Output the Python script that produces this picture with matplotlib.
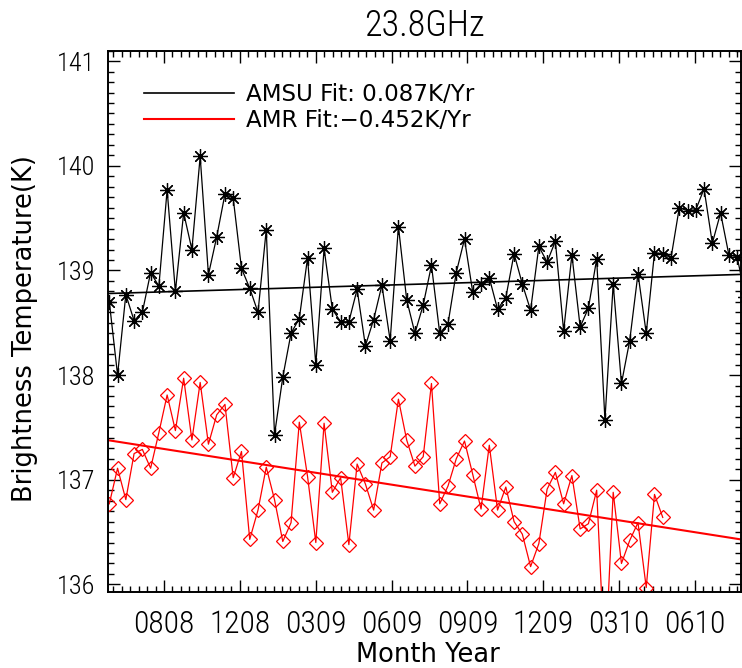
import numpy as np
import matplotlib
matplotlib.use('Agg')
import matplotlib.pyplot as plt
from matplotlib import font_manager as fm
from matplotlib.ticker import FixedLocator, MultipleLocator
from matplotlib.lines import Line2D

# ---------------- data ----------------
title = '23.8GHz'
xlabel = 'Month Year'
ylabel = 'Brightness Temperature(K)'
tick_labels = ['0808', '1208', '0309', '0609', '0909', '1209', '0310', '0610']
sample_step_days = 10          # one sample every 10 days
first_tick_day = 66.2          # day of the first labelled tick
tick_step_days = 91.84         # ~3 months between labelled ticks

amsu = [138.70, 138.00, 138.77, 138.52, 138.60, 138.98, 138.85, 139.77, 138.80, 139.55,
        139.20, 140.09, 138.96, 139.32, 139.73, 139.69, 139.02, 138.83, 138.60, 139.39,
        137.43, 137.98, 138.40, 138.54, 139.12, 138.10, 139.21, 138.63, 138.51, 138.51,
        138.82, 138.28, 138.53, 138.86, 138.33, 139.42, 138.72, 138.40, 138.67, 139.05,
        138.40, 138.49, 138.98, 139.30, 138.79, 138.87, 138.93, 138.63, 138.74, 139.16,
        138.87, 138.62, 139.23, 139.08, 139.28, 138.42, 139.15, 138.46, 138.64, 139.11,
        137.57, 138.87, 137.92, 138.33, 138.97, 138.40, 139.17, 139.16, 139.12, 139.60,
        139.57, 139.58, 139.78, 139.26, 139.55, 139.15, 139.13, 138.75]

amr = [136.77, 137.11, 136.81, 137.25, 137.29, 137.11, 137.45, 137.81, 137.47, 137.97,
       137.38, 137.93, 137.34, 137.62, 137.72, 137.02, 137.27, 136.43, 136.71, 137.12,
       136.81, 136.41, 136.59, 137.55, 137.03, 136.40, 137.54, 136.88, 137.02, 136.38,
       137.15, 136.96, 136.71, 137.16, 137.22, 137.77, 137.38, 137.13, 137.22, 137.92,
       136.77, 136.94, 137.20, 137.37, 137.05, 136.72, 137.33, 136.71, 136.93, 136.60,
       136.48, 136.17, 136.39, 136.91, 137.07, 136.77, 137.04, 136.53, 136.58, 136.90,
       135.20, 136.88, 136.20, 136.42, 136.59, 135.97, 136.86, 136.64]

# linear fits: (value at first sample [K], slope [K/yr])
amsu_fit = (138.78, 0.087)
amr_fit = (137.376, -0.452)
amsu_label = 'AMSU Fit: 0.087K/Yr'
amr_label = 'AMR Fit:\u22120.452K/Yr'

# ---------------- fonts ----------------
def pick(names):
    for n in names:
        try:
            fm.findfont(fm.FontProperties(family=n), fallback_to_default=False)
            return n
        except Exception:
            pass
    return 'DejaVu Sans'

narrow = pick(['Liberation Sans Narrow', 'Roboto Condensed', 'Liberation Sans'])
wide = 'DejaVu Sans'

# ---------------- figure ----------------
fig = plt.figure(figsize=(7.42, 6.68), dpi=100)
ax = fig.add_axes([0.1462, 0.1142, 0.8521, 0.8099])

x_amsu = np.arange(len(amsu)) * sample_step_days
x_amr = np.arange(len(amr)) * sample_step_days

xlim = (-1.0, 764.4)
ylim = (135.93, 141.10)

ax.plot(x_amsu, amsu, color='black', lw=0.9, marker=(8, 2, 0), ms=10.5,
        mec='black', mew=0.9)
ax.plot(x_amr, amr, color='#ff0000', lw=0.9, marker='D', ms=7.2,
        mfc='none', mec='#ff0000', mew=0.9)

xf = np.array(xlim)
ax.plot(xf, amsu_fit[0] + amsu_fit[1] * xf / 365.25, color='black', lw=1.2)
ax.plot(xf, amr_fit[0] + amr_fit[1] * xf / 365.25, color='#ff0000', lw=1.5)

ax.set_xlim(*xlim)
ax.set_ylim(*ylim)

majors = first_tick_day + tick_step_days * np.arange(len(tick_labels))
mstep = tick_step_days / 9
minors = np.arange(first_tick_day - 8 * mstep, xlim[1], mstep)
minors = [m for m in minors if xlim[0] <= m <= xlim[1] and np.min(np.abs(majors - m)) > 1e-6]
ax.xaxis.set_major_locator(FixedLocator(majors))
ax.xaxis.set_minor_locator(FixedLocator(minors))
ax.set_xticklabels(tick_labels, fontsize=22.8, family=narrow, weight='light')
ax.yaxis.set_minor_locator(MultipleLocator(0.1))
ax.set_yticks([136, 137, 138, 139, 140, 141])
ax.set_yticklabels(['136', '137', '138', '139', '140', '141'], fontsize=19, family=narrow,
                   weight='light')

ax.tick_params(which='both', direction='in', top=True, right=True, width=1.0, color='black')
ax.tick_params(which='major', length=8.6)
ax.tick_params(which='minor', length=4.3)
ax.tick_params(axis='x', which='major', pad=13.2)
ax.tick_params(axis='y', which='major', pad=9.7)
for s in ax.spines.values():
    s.set_linewidth(1.4)

ax.set_title(title, fontsize=26, family=narrow, weight='light', pad=10.6)
fig.text(24.7 / 742, 1 - 329 / 668, ylabel, rotation=90, ha='center', va='center',
         fontsize=18.5, family=wide)
fig.text(428 / 742, 1 - 655 / 668, xlabel, ha='center', va='center',
         fontsize=18.5, family=wide)

handles = [Line2D([], [], color='black', lw=1.2), Line2D([], [], color='#ff0000', lw=1.5)]
ax.legend(handles, [amsu_label, amr_label], loc='upper left', bbox_to_anchor=(0.0562, 0.940),
          frameon=False, borderpad=0, borderaxespad=0, handlelength=3.9, handletextpad=0.52,
          labelspacing=0.12, prop={'family': wide, 'size': 16.6})

fig.savefig('out.png', dpi=100)
